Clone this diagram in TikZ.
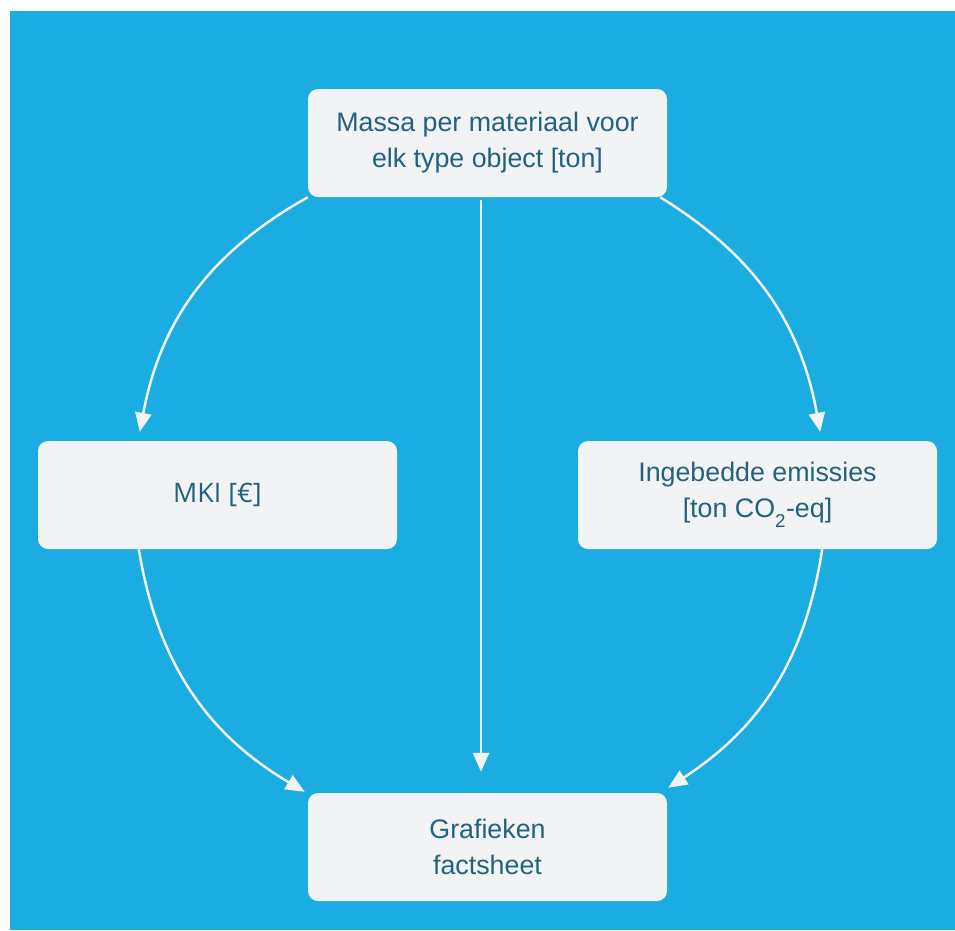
\documentclass[tikz,border=0pt]{standalone}
\usepackage{fontspec}
\setmainfont{Liberation Sans}
\newfontfamily\mkifont{Open Sans}
\usepackage{xcolor}
\usetikzlibrary{arrows.meta,positioning}
\definecolor{achtergrond}{HTML}{1BACE2}
\definecolor{vak}{HTML}{F1F3F5}
\definecolor{tekst}{HTML}{23627F}

\begin{document}
\begin{tikzpicture}[x=1pt,y=-1pt,
	vakje/.style={fill=vak,rounded corners=10pt,minimum width=359pt,minimum height=108pt,inner sep=0pt,align=center,text=tekst,font=\fontsize{26.8}{36}\selectfont},
	pijl/.style={draw=vak,line width=2.5pt,-{Triangle[length=19pt,width=16pt]}}]
		\useasboundingbox (0,0) rectangle (955,930);
		\fill[white] (0,0) rectangle (955,930);
		\fill[achtergrond] (10,11) rectangle (955,930);
		% de vier vakken
		\node[vakje] (massa) at (487.5,143) {Massa per materiaal voor\\elk type object {[}ton{]}};
		\node[vakje] (mki) at (217.5,495) {\mkifont MKI [€]};
		\node[vakje] (emissies) at (757.5,495) {Ingebedde emissies\\{[}ton CO\raisebox{-0.35ex}{\textsubscript{2}}-eq{]}};
		\node[vakje] (grafiek) at (487.5,847) {Grafieken\\factsheet};
		% pijlen
		\draw[pijl] (massa.south west) to[bend right=25] ([xshift=102pt,yshift=9pt]mki.north west);
		\draw[pijl] ([xshift=-7pt]massa.south east) to[bend left=24] ([xshift=-117pt,yshift=9pt]emissies.north east);
		\draw[pijl] ([xshift=-6.5pt,yshift=-3pt]massa.south) -- ([xshift=-6.5pt,yshift=21pt]grafiek.north);
		\draw[pijl] ([xshift=101pt]mki.south west) to[bend right=25] ([xshift=-3pt,yshift=1pt]grafiek.north west);
		\draw[pijl] ([xshift=-115pt]emissies.south east) to[bend left=24] ([xshift=1pt,yshift=5pt]grafiek.north east);
\end{tikzpicture}
\end{document}
